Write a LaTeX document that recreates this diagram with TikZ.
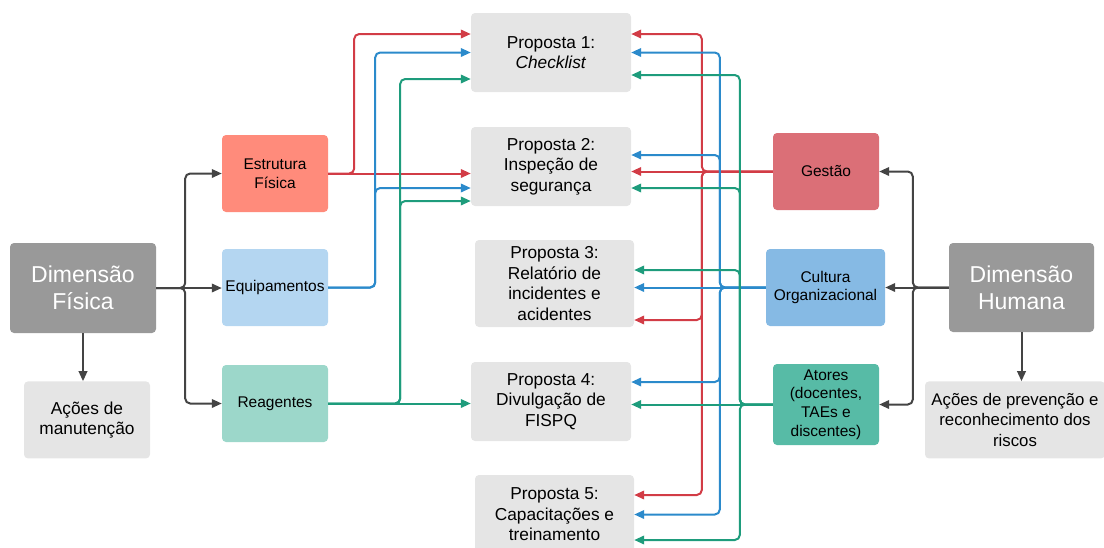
\documentclass[tikz,border=0pt]{standalone}
\usepackage{fontspec}
\setmainfont{Liberation Sans}
\usepackage{tikz}
\usetikzlibrary{arrows.meta,positioning}
\definecolor{dimgray}{HTML}{999999}
\definecolor{boxgray}{HTML}{E5E5E5}
\definecolor{estrfill}{HTML}{FF8B7B}
\definecolor{equipfill}{HTML}{B4D6F1}
\definecolor{reagfill}{HTML}{9CD7CA}
\definecolor{gestfill}{HTML}{DB6F77}
\definecolor{cultfill}{HTML}{86BAE4}
\definecolor{atorfill}{HTML}{57BBA6}
\definecolor{linered}{HTML}{D23C46}
\definecolor{lineblue}{HTML}{2B8ACB}
\definecolor{linegreen}{HTML}{1E9C7C}
\definecolor{linedark}{HTML}{444444}

\begin{document}
\begin{tikzpicture}[x=1pt,y=-1pt,
  boxbase/.style={rectangle,rounded corners=4pt,align=center,inner sep=2pt},
  dim/.style={boxbase,fill=dimgray,text=white,minimum width=146pt,minimum height=90pt,font=\fontsize{23}{27}\selectfont},
  prop/.style={boxbase,fill=boxgray,minimum width=160pt,minimum height=79pt,font=\fontsize{17.3}{20.5}\selectfont},
  fator/.style={boxbase,minimum width=106pt,minimum height=77pt,font=\fontsize{15.5}{18.7}\selectfont},
  arr/.style={-{Triangle[length=10pt,width=8.5pt]},line width=2pt,rounded corners=5pt},
  dk/.style={arr,draw=linedark},
  rd/.style={arr,draw=linered},
  bl/.style={arr,draw=lineblue},
  gr/.style={arr,draw=linegreen}
]
\clip (0,0) rectangle (1104,547);
% dimensions
\node[dim] (dfis) at (83,288) {Dimensão\\Física};
\node[prop,minimum width=126pt,minimum height=77pt,below=48pt of dfis,xshift=4pt] (manut) {Ações de\\manutenção};
\node[dim,minimum width=145pt,minimum height=89pt] (dhum) at (1021.5,287.5) {Dimensão\\Humana};
\node[prop,minimum width=180pt,minimum height=77pt,below=49pt of dhum,xshift=-6.5pt,font=\fontsize{16.8}{20.5}\selectfont] (prev) {Ações de prevenção e\\reconhecimento dos\\riscos};
% physical factors
\node[fator,fill=estrfill] (estr) at (275,173.5) {Estrutura\\Física};
\node[fator,fill=equipfill] (equip) at (275,287.5) {Equipamentos};
\node[fator,fill=reagfill] (reag) at (275,403.5) {Reagentes};
% human factors
\node[fator,fill=gestfill] (gest) at (826,171.5) {Gestão};
\node[fator,fill=cultfill,minimum width=119pt] (cult) at (825.5,287.5) {Cultura\\Organizacional};
\node[fator,fill=atorfill,minimum height=81pt] (ator) at (826,404.5) {Atores\\(docentes,\\TAEs e\\discentes)};
% proposals
\node[prop] (p1) at (551,52.5) {Proposta 1:\\\textit{Checklist}};
\node[prop] (p2) at (551,166.5) {Proposta 2:\\Inspeção de\\segurança};
\node[prop,minimum width=159pt,minimum height=87pt] (p3) at (554.5,283.5) {Proposta 3:\\Relatório de\\incidentes e\\acidentes};
\node[prop] (p4) at (551,401.5) {Proposta 4:\\Divulgação de\\FISPQ};
\node[prop,minimum width=159pt] (p5) at (554.5,514.5) {Proposta 5:\\Capacitações e\\treinamento};

\draw[dk] (dfis.east) -- ++(29,0) |- (estr.west);
\draw[dk] (dfis.east) -- (dfis.east -| equip.west);
\draw[dk] (dfis.east) -- ++(29,0) |- (reag.west);
\draw[dk] (dfis.south) -- (dfis.south |- manut.north);
\draw[dk] (dhum.west) -- ++(-36,0) |- (gest.east);
\draw[dk] (dhum.west) -- (dhum.west -| cult.east);
\draw[dk] (dhum.west) -- ++(-36,0) |- (ator.east);
\draw[dk] (dhum.south) -- (dhum.south |- prev.north);

\draw[rd] (estr.east) -- (estr.east -| p2.west);
\draw[rd] (estr.east) -- ++(26,0) |- ([yshift=18.5pt]p1.west);
\draw[bl] (equip.east) -- ++(47,0) |- ([yshift=-21.5pt]p2.west);
\draw[bl] (equip.east) -- ++(47,0) |- (p1.west);
\draw[gr] (reag.east) -- (reag.east -| p4.west);
\draw[gr] (reag.east) -- ++(72,0) |- ([yshift=-34.5pt]p2.west);
\draw[gr] (reag.east) -- ++(72,0) |- ([yshift=-26.5pt]p1.west);

\draw[rd] (gest.west) -- (gest.west -| p2.east);
\draw[rd] (gest.west) -- ++(-71,0) |- ([yshift=18.5pt]p1.east);
\draw[rd] (gest.west) -- ++(-71,0) |- ([yshift=-36.5pt]p3.east);
\draw[rd] (gest.west) -- ++(-71,0) |- ([yshift=19.5pt]p5.east);
\draw[bl] (cult.west) -- (cult.west -| p3.east);
\draw[bl] (cult.west) -- ++(-46,0) |- (p1.east);
\draw[bl] (cult.west) -- ++(-46,0) |- ([yshift=11.5pt]p2.east);
\draw[bl] (cult.west) -- ++(-46,0) |- ([yshift=19.5pt]p4.east);
\draw[bl] (cult.west) -- ++(-46,0) |- (p5.east);
\draw[gr] (ator.west) -- (ator.west -| p4.east);
\draw[gr] (ator.west) -- ++(-33,0) |- ([yshift=-22.5pt]p1.east);
\draw[gr] (ator.west) -- ++(-33,0) |- ([yshift=-21.5pt]p2.east);
\draw[gr] (ator.west) -- ++(-33,0) |- ([yshift=13.5pt]p3.east);
\draw[gr] (ator.west) -- ++(-33,0) |- ([yshift=-25.5pt]p5.east);
\end{tikzpicture}
\end{document}
